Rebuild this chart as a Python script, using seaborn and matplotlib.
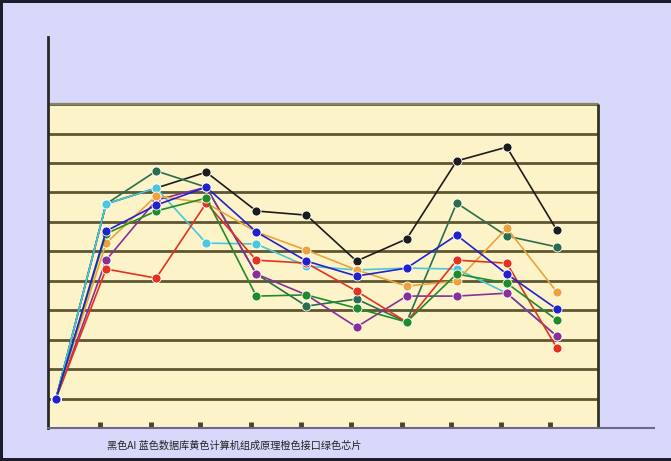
import matplotlib
matplotlib.use("Agg")
import matplotlib.pyplot as plt
import numpy as np
import pandas as pd
import seaborn as sns
from matplotlib.patches import Rectangle


# points along the course sequence (index 0..10)
positions = list(range(11))
tick_positions = [0.88, 1.9, 2.88, 3.89, 4.89, 5.89, 6.9, 7.88, 8.88, 9.86]
grid_levels = list(range(1, 12))

black_vals = [1.0, 7.61, 8.15, 8.69, 7.37, 7.23, 5.67, 6.42, 9.07, 9.54, 6.72]
darkgreen_vals = [1.0, 7.61, 8.73, 8.18, 5.23, 4.14, 4.38, 3.6, 7.64, 6.52, 6.15]
cyan_vals = [1.0, 7.61, 8.15, 6.28, 6.25, 5.5, 5.37, 5.43, 5.4, 4.58, 3.12]
purple_vals = [1.0, 5.7, 7.74, 8.18, 5.23, 4.52, 3.43, 4.48, 4.48, 4.58, 3.12]
orange_vals = [1.0, 6.28, 7.88, 7.64, 6.66, 6.04, 5.37, 4.82, 4.99, 6.79, 4.62]
red_vals = [1.0, 5.4, 5.09, 7.64, 5.7, 5.6, 4.65, 3.6, 5.7, 5.6, 2.72]
green_vals = [1.0, 6.6, 7.37, 7.81, 4.48, 4.52, 4.07, 3.6, 5.23, 4.92, 3.67]
blue_vals = [1.0, 6.69, 7.57, 8.18, 6.66, 5.67, 5.16, 5.43, 6.55, 5.23, 4.04]

series = {
    "black": black_vals,
    "darkgreen": darkgreen_vals,
    "cyan": cyan_vals,
    "purple": purple_vals,
    "orange": orange_vals,
    "red": red_vals,
    "green": green_vals,
    "blue": blue_vals,
}
colors = {
    "black": "#1c1c1c",
    "darkgreen": "#2b6e4e",
    "cyan": "#48c8da",
    "purple": "#8a2f98",
    "orange": "#eea23a",
    "red": "#e5321e",
    "green": "#1f8c2a",
    "blue": "#2222cc",
}
label_text = "黑色AI 蓝色数据库黄色计算机组成原理橙色接口绿色芯片"

rows = []
for name, vals in series.items():
    for p, v in zip(positions, vals):
        rows.append({"series": name, "x": p, "v": v})
df = pd.DataFrame(rows)

sns.set_style("white")
plt.rcParams["font.family"] = ["Noto Sans CJK SC", "DejaVu Sans"]

bg = "#d8d8fb"
fig = plt.figure(figsize=(6.71, 4.61), dpi=100, facecolor=bg)
ax = fig.add_axes([48 / 671, 33 / 461, 606 / 671, 391 / 461])
ax.set_facecolor(bg)

x_left, x_right = -0.16, 11.94
yellow_right = 10.82
ax.set_xlim(x_left, x_right)
ax.set_ylim(0, 13.28)

# yellow plot panel with olive grid lines
ax.add_patch(Rectangle((x_left, 0), yellow_right - x_left, 11, facecolor="#fcf4c8",
                       edgecolor="none", zorder=0))
ax.hlines(grid_levels, x_left, yellow_right, colors="#5e5532", linewidth=2.0, zorder=1)
ax.hlines([11], x_left, yellow_right, colors="#8a8260", linewidth=1.6, zorder=1)
ax.vlines([yellow_right], 0, 11, colors="#333322", linewidth=2.0, zorder=1)

sns.lineplot(data=df, x="x", y="v", hue="series", hue_order=list(series.keys()),
             palette=colors, marker="o", markersize=6.5, linewidth=1.2,
             markeredgecolor="white", markeredgewidth=0.6, legend=False, ax=ax, zorder=3)

ax.set_xticks(tick_positions)
ax.set_yticks([])
ax.tick_params(axis="x", bottom=True, direction="in", length=4, width=3.5,
               color="#4a4428", labelbottom=False)
ax.set_xlabel("")
ax.set_ylabel("")

for side in ["top", "right"]:
    ax.spines[side].set_visible(False)
ax.spines["left"].set_color("#2a2a2a")
ax.spines["left"].set_linewidth(2.0)
ax.spines["bottom"].set_color("#6c6a8a")
ax.spines["bottom"].set_linewidth(1.5)

fig.text(107 / 671, 1 - 446 / 461, label_text, fontsize=7.3, color="#222222",
         ha="left", va="center")

# dark frame of the original screenshot
fig.patches.append(Rectangle((0, 1 - 3 / 461), 1, 3 / 461, transform=fig.transFigure,
                             facecolor="#1c1c2a", edgecolor="none"))
fig.patches.append(Rectangle((0, 0), 3 / 671, 1, transform=fig.transFigure,
                             facecolor="#1c1c2a", edgecolor="none"))
fig.patches.append(Rectangle((0, 0), 1, 3 / 461, transform=fig.transFigure,
                             facecolor="#1c1c2a", edgecolor="none"))

fig.savefig("out.png", dpi=100, facecolor=bg)
